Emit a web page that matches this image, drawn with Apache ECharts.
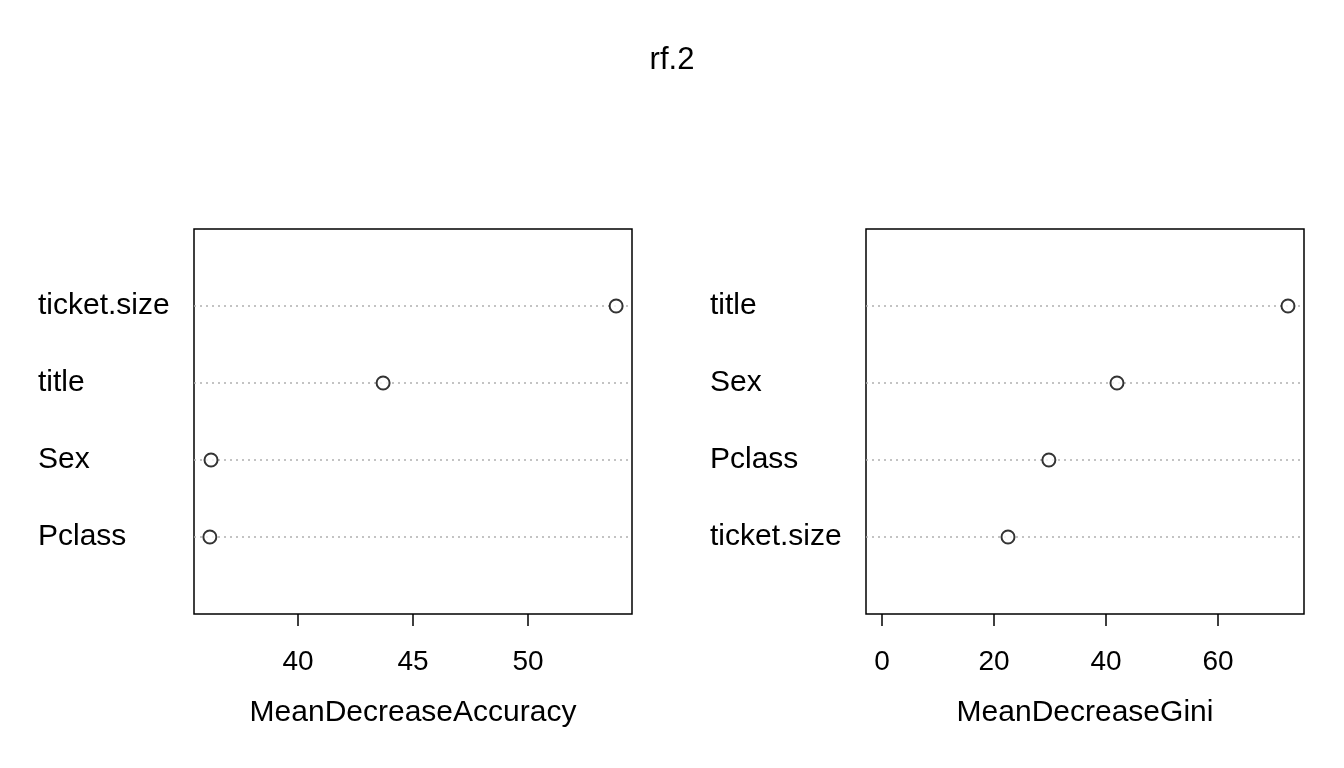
<!DOCTYPE html>
<html>
<head>
<meta charset="utf-8">
<script src="https://cdn.jsdelivr.net/npm/echarts@6/dist/echarts.min.js"></script>
<style>html,body{margin:0;padding:0;background:#fff}#main{width:1344px;height:768px}</style>
</head>
<body>
<div id="main"></div>
<script>
// variable names, bottom to top
var accNames = ['Pclass', 'Sex', 'title', 'ticket.size'];
var accValues = [36.17, 36.22, 43.70, 53.83];
var accTicks = [40, 45, 50];

var giniNames = ['ticket.size', 'Pclass', 'Sex', 'title'];
var giniValues = [22.5, 29.8, 41.96, 72.5];
var giniTicks = [0, 20, 40, 60];

var font = 'Liberation Sans, Arial, sans-serif';

function xAxisOf(idx, min, max, ticks, name) {
    return {
        type: 'value', gridIndex: idx, min: min, max: max,
        name: name, nameLocation: 'middle', nameGap: 84,
        nameTextStyle: {fontSize: 30, color: '#000', fontFamily: font},
        axisLine: {show: false},
        splitLine: {show: false},
        axisTick: {show: true, length: 12, inside: false, customValues: ticks, lineStyle: {color: '#000', width: 1.5}},
        axisLabel: {customValues: ticks, fontSize: 28, color: '#000', fontFamily: font, margin: 34}
    };
}
function yAxisOf(idx, names) {
    var clear = 'rgba(0,0,0,0)', grey = '#b0b0b0';
    return {
        type: 'value', gridIndex: idx, min: 0, max: 5, interval: 1,
        axisLine: {show: false}, axisTick: {show: false},
        axisLabel: {
            align: 'left', margin: 156, fontSize: 30, color: '#000', fontFamily: font,
            formatter: function (v) { return names[v - 1] || ''; }
        },
        splitLine: {show: true, lineStyle: {type: [2, 4], color: [clear, grey, grey, grey, grey, clear], width: 1.5}}
    };
}
function pts(vals) {
    return vals.map(function (v, i) { return [v, i + 1]; });
}
function scatterOf(idx, vals) {
    return {
        type: 'scatter', xAxisIndex: idx, yAxisIndex: idx, data: pts(vals),
        symbol: 'circle', symbolSize: 13,
        itemStyle: {color: '#fff', borderColor: '#000', borderWidth: 2}
    };
}

var chart = echarts.init(document.getElementById('main'));
chart.setOption({
    animation: false,
    backgroundColor: '#fff',
    title: {text: 'rf.2', left: 'center', top: 40, textStyle: {fontSize: 31, fontWeight: 'normal', color: '#000', fontFamily: font}},
    grid: [
        {left: 194, top: 229, width: 438, height: 385, show: true, borderColor: '#000', borderWidth: 1.5, backgroundColor: 'transparent'},
        {left: 866, top: 229, width: 438, height: 385, show: true, borderColor: '#000', borderWidth: 1.5, backgroundColor: 'transparent'}
    ],
    xAxis: [
        xAxisOf(0, 35.48, 54.52, accTicks, 'MeanDecreaseAccuracy'),
        xAxisOf(1, -2.86, 75.36, giniTicks, 'MeanDecreaseGini')
    ],
    yAxis: [yAxisOf(0, accNames), yAxisOf(1, giniNames)],
    series: [scatterOf(0, accValues), scatterOf(1, giniValues)]
});
</script>
</body>
</html>
